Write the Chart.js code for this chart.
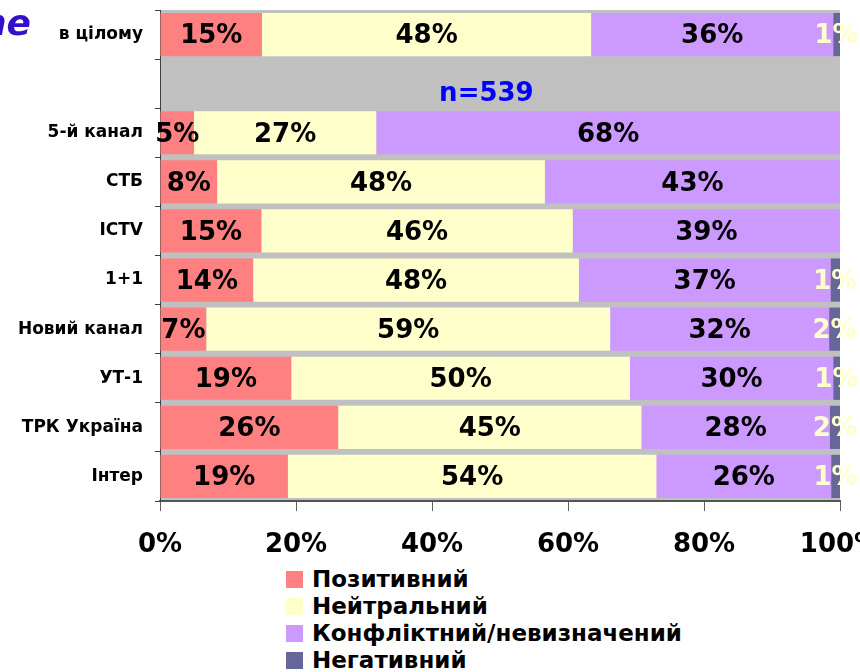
<!DOCTYPE html>
<html>
<head>
<meta charset="utf-8">
<script src="https://cdn.jsdelivr.net/npm/chart.js@4"></script>
<style>
  body { margin: 0; background: #fff; overflow: hidden; width: 860px; height: 672px; position: relative; }
  #cut { position: absolute; right: 829px; top: 5px; font: italic bold 36px "DejaVu Sans"; line-height: 36px; color: #3311cc; white-space: nowrap; }
  #legend { position: absolute; left: 286px; top: 566px; font: bold 23px "DejaVu Sans"; }
  #legend div { height: 27px; line-height: 27px; white-space: nowrap; }
  #legend span { display: inline-block; width: 17px; height: 17px; margin-right: 9px; vertical-align: -1px; }
</style>
</head>
<body>
<div id="cut">ne</div>
<canvas id="chart" width="860" height="560"></canvas>
<div id="legend"></div>

<script>
const categories = ['в цілому', '', '5-й канал', 'СТБ', 'ICTV', '1+1', 'Новий канал', 'УТ-1', 'ТРК Україна', 'Інтер'];
const positive = [15.0, null, 5.0, 8.4, 14.9, 13.7, 6.8, 19.3, 26.2, 18.8];
const neutral  = [48.4, null, 26.8, 48.2, 45.8, 47.9, 59.4, 49.8, 44.6, 54.2];
const conflict = [35.6, null, 68.2, 43.4, 39.3, 37.0, 32.2, 29.9, 27.7, 25.7];
const negative = [1.0, null, 0, 0, 0, 1.4, 1.6, 1.0, 1.5, 1.3];
const seriesNames = ['Позитивний', 'Нейтральний', 'Конфліктний/невизначений', 'Негативний'];
const sampleNote = 'n=539';
const xTicks = [0, 20, 40, 60, 80, 100];

const colors = ['#FF8080', '#FFFFCC', '#CC99FF', '#666699'];
const labelColors = ['#000', '#000', '#000', '#FFFFCC'];

// grey plot area + value labels + n= note
const plotExtras = {
  id: 'plotExtras',
  beforeDraw(chart) {
    const a = chart.chartArea;
    chart.ctx.fillStyle = '#C0C0C0';
    chart.ctx.fillRect(a.left, a.top, a.right - a.left, a.bottom - a.top);
  },
  afterDatasetsDraw(chart) {
    const ctx = chart.ctx;
    ctx.save();
    ctx.font = 'bold 26px "DejaVu Sans"';
    ctx.textAlign = 'center';
    ctx.textBaseline = 'middle';
    chart.data.datasets.forEach((ds, i) => {
      const meta = chart.getDatasetMeta(i);
      meta.data.forEach((bar, j) => {
        const v = ds.data[j];
        if (!v) return;
        ctx.fillStyle = labelColors[i];
        ctx.fillText(Math.round(v) + '%', (bar.x + bar.base) / 2, bar.y + 2);
      });
    });
    ctx.fillStyle = '#0000FF';
    ctx.fillText(sampleNote, chart.scales.x.getPixelForValue(48), chart.scales.y.getPixelForValue(1) + 11);
    ctx.restore();
  }
};

const ctx = document.getElementById('chart').getContext('2d');
const chart = new Chart(ctx, {
  type: 'bar',
  data: {
    labels: categories,
    datasets: [positive, neutral, conflict, negative].map((d, i) => ({
      label: seriesNames[i],
      data: d,
      backgroundColor: colors[i],
      borderWidth: 0,
      barPercentage: 0.88,
      categoryPercentage: 1
    }))
  },
  options: {
    indexAxis: 'y',
    responsive: false,
    animation: false,
    layout: { padding: { top: 10, right: 20, left: 0, bottom: 0 } },
    plugins: { legend: { display: false }, tooltip: { enabled: false } },
    scales: {
      x: {
        stacked: true,
        min: 0,
        max: 100,
        afterBuildTicks: s => { s.ticks = xTicks.map(v => ({ value: v })); },
        afterFit: s => { s.height = 59; s.paddingLeft = 0; s.paddingRight = 0; },
        grid: { drawOnChartArea: false, tickLength: 10, color: '#606060' },
        border: { color: '#555', width: 2 },
        ticks: {
          padding: 19,
          color: '#000',
          font: { family: 'DejaVu Sans', size: 26, weight: 'bold' },
          callback: v => v + '%'
        }
      },
      y: {
        stacked: true,
        afterFit: s => { s.width = 160; s.paddingTop = 0; s.paddingBottom = 0; },
        grid: { drawOnChartArea: false, offset: true, tickLength: 5, color: '#404040' },
        border: { color: '#404040', width: 1 },
        ticks: {
          padding: 12,
          color: '#000',
          font: { family: 'DejaVu Sans', size: 17, weight: 'bold' }
        }
      }
    }
  },
  plugins: [plotExtras]
});

const legend = document.getElementById('legend');
chart.data.datasets.forEach(ds => {
  const row = document.createElement('div');
  row.innerHTML = '<span style="background:' + ds.backgroundColor + '"></span>' + ds.label;
  legend.appendChild(row);
});
</script>
</body>
</html>
